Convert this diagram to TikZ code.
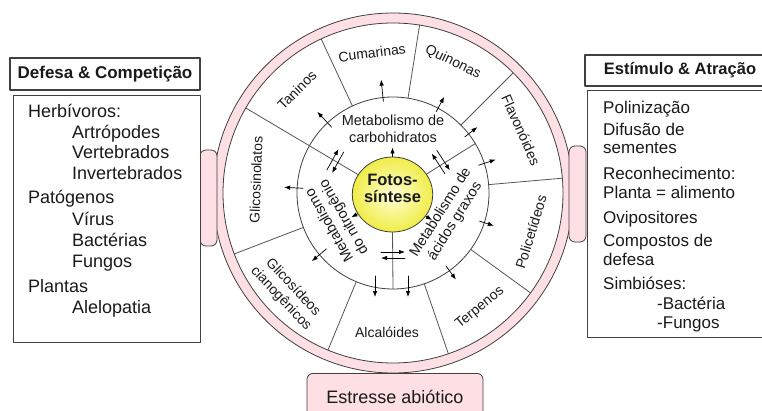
\documentclass[tikz,border=0pt]{standalone}
\usepackage{fontspec}
\setmainfont{Liberation Sans}
\usetikzlibrary{arrows.meta,shapes.geometric}
\definecolor{metInk}{HTML}{1A1A1A}
\definecolor{metBorder}{HTML}{404040}
\definecolor{metPink}{HTML}{FDDFE4}
\definecolor{metLine}{HTML}{555555}
\definecolor{metSunIn}{HTML}{FFFFD8}
\definecolor{metSunOut}{HTML}{F0EC48}
\tikzset{
  met diagram/.style={x=1pt, y=1pt, text=metInk,
    line cap=round, line join=round, font=\fontsize{14}{16.5}\selectfont},
  met box/.style={draw=metBorder, fill=white, line width=1.1pt, inner sep=0pt},
  met title/.style={met box, font=\fontsize{17}{20}\selectfont\bfseries},
  met list/.style={align=left, inner sep=0pt},
  met tab/.style={draw=metBorder, fill=metPink, line width=0.8pt,
    rounded corners=6pt, inner sep=0pt},
  met ring/.style={draw=metBorder, line width=0.8pt},
  met divider/.style={draw=metLine, line width=0.8pt},
  met arrow/.style={-{Latex[length=6pt,width=4.5pt]}, draw=black, line width=0.7pt},
  met label/.style={font=\fontsize{14}{16.5}\selectfont, align=center, inner sep=1pt}
}
\begin{document}
\begin{tikzpicture}[met diagram]
\path[use as bounding box, fill=white] (0,0) rectangle (762,410);
\clip (0,0) rectangle (762,410);
\coordinate (C) at (393,217);

% ring and tabs
\fill[metPink, even odd rule] (C) circle (180) (C) circle (170);
\draw[met ring] (C) circle (180);
\draw[met ring] (C) circle (170);
\node[met tab, minimum width=17, minimum height=96] (leftTab) at (208.5,212) {};
\node[met tab, minimum width=17, minimum height=96] (rightTab) at (577.5,216) {};
\node[met tab, minimum width=176, minimum height=48, anchor=north,
  font=\fontsize{18}{20}\selectfont] (abiotico) at (395,37) {Estresse abiótico};

% side boxes (lists anchored at their last baseline)
\node[met title, minimum width=190, minimum height=32] (defTitle) at (105,336) {Defesa \& Competição};
\node[met box, minimum width=187, minimum height=247, anchor=north west] (defBox) at (13,315) {};
\node[met list, font=\fontsize{18}{20.8}\selectfont, anchor=base west] (defList) at (28,97) {%
  Herbívoros:\\
  \hspace*{44pt}Artrópodes\\
  \hspace*{44pt}Vertebrados\\
  \hspace*{44pt}Invertebrados\\[2.5pt]
  Patógenos\\[2pt]
  \hspace*{44pt}Vírus\\
  \hspace*{44pt}Bactérias\\
  \hspace*{44pt}Fungos\\[4pt]
  Plantas\\
  \hspace*{44pt}Alelopatia};
\node[met title, minimum width=190, minimum height=31, font=\fontsize{16.5}{20}\selectfont\bfseries]
  (estTitle) at (680,339.5) {Estímulo \& Atração};
\node[met box, minimum width=190, minimum height=247, anchor=north west] (estBox) at (587,320) {};
\node[met list, font=\fontsize{17}{18.5}\selectfont, anchor=base west] (estList) at (603,82) {%
  Polinização\\[3pt]
  Difusão de\\
  sementes\\[7.5pt]
  Reconhecimento:\\
  Planta = alimento\\[7pt]
  Ovipositores\\[4.5pt]
  Compostos de\\
  defesa\\[6pt]
  Simbióses:\\[1.5pt]
  \hspace*{54pt}-Bactéria\\
  \hspace*{54pt}-Fungos};

% inner circles
\draw[met ring] (C) circle (96);
\node[ellipse, draw=metBorder, line width=0.8pt, inner color=metSunIn, outer color=metSunOut,
  minimum width=68, minimum height=75, inner sep=0pt, align=center,
  font=\fontsize{16.5}{16.5}\selectfont\bfseries] (fotos) at (392.5,215.5) {Fotos-\\síntese\\[-4pt]};

% dividers
\foreach \a in {115,81,45,5,-36,-71,-112.5,-159}
  \draw[met divider] ([shift={(\a:96)}]C) -- ([shift={(\a:170)}]C);
\draw[met divider] (fotos.150) -- ([shift={(150:170)}]C);
\draw[met divider] (fotos.31) -- ([shift={(31:96)}]C);
\draw[met divider] (fotos.-90) -- ([shift={(-90:96)}]C);

% compound classes
\node[met label, rotate=7] (cumarinas) at (372,357) {Cumarinas};
\node[met label, rotate=-26] (quinonas) at (453,348) {Quinonas};
\node[met label, rotate=-66] (flavonoides) at (521,280) {Flavonóides};
\node[met label, rotate=73] (policetideos) at (531,178) {Policetídeos};
\node[met label, rotate=39] (terpenos) at (480,102) {Terpenos};
\node[met label] (alcaloides) at (387,78) {Alcalóides};
\node[met label, rotate=-47] (cianogenicos) at (287,117) {Glicosídeos\\cianogênicos};
\node[met label, rotate=88] (glicosinolatos) at (256,230) {Glicosinolatos};
\node[met label, rotate=45] (taninos) at (297,320) {Taninos};

% metabolism
\node[met label, font=\fontsize{14.5}{16.7}\selectfont] (carbo) at (393,281.5) {Metabolismo de\\carbohidratos};
\node[met label, font=\fontsize{14.5}{16.7}\selectfont, rotate=120] (nitro) at (337,189) {Metabolismo\\do nitrogênio};
\node[met label, font=\fontsize{14.5}{16.7}\selectfont, rotate=58] (graxos) at (448,193) {Metabolismo de\\ácidos graxos};

% arrows
\foreach \a in {90,209,-33}
  \draw[met arrow] (fotos.\a) -- ([shift={(\a:47)}]fotos.center);
\foreach \a/\r/\s in {96/92/114, 62/92/109, 38/91/107, 18/90/108, -18/91/106,
    -54/90/107, -140/87/106, 177/90/109, 133/90/111}
  \draw[met arrow] ([shift={(\a:\r)}]C) -- ([shift={(\a:\s)}]C);
\draw[met arrow] (375,134) -- (375,113);
\draw[met arrow] (408,134) -- (408,113);
\foreach \a/\r in {151/66, 33/57, -90/62}{
  \begin{scope}[shift={(C)}, rotate=\a]
    \draw[met arrow] (\r-3,-12) -- (\r-3,12);
    \draw[met arrow] (\r+3,12) -- (\r+3,-12);
  \end{scope}
}
\end{tikzpicture}
\end{document}
